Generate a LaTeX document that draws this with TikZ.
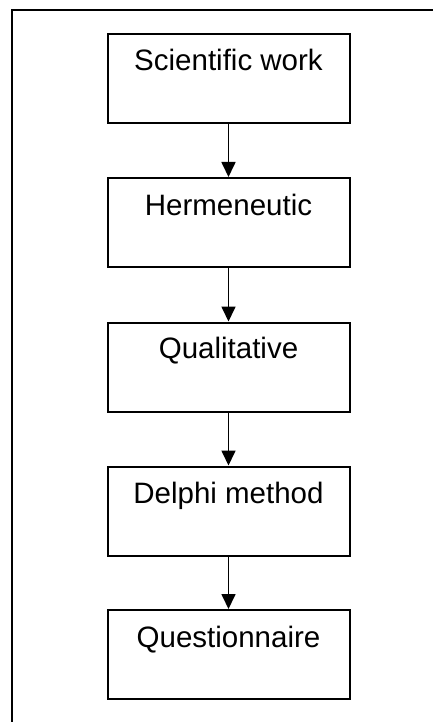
\documentclass[tikz,border=0pt]{standalone}
\usepackage{fontspec}
\setmainfont{Liberation Sans}
\usetikzlibrary{arrows.meta,calc}
\begin{document}
\begin{tikzpicture}[x=1pt,y=-1pt,
  stagebox/.style={draw=black,line width=2pt,minimum width=242pt,minimum height=89pt,inner sep=0pt},
  stagetext/.style={anchor=base,font=\fontsize{29.5}{34}\selectfont,inner sep=0pt},
  flow/.style={line width=1.7pt,-{Triangle[length=15pt,width=14pt]}}]
  \useasboundingbox (0,0) rectangle (433,722);
  % open frame: top and left edges only
  \draw[line width=2pt] (433,10) -- (12,10) -- (12,722);
  % stages
  \node[stagebox] (b1) at (228.5,78.5) {};
  \node[stagebox] (b2) at (228.5,222.5) {};
  \node[stagebox] (b3) at (228.5,367) {};
  \node[stagebox] (b4) at (228.5,511) {};
  \node[stagebox] (b5) at (228.5,654.5) {};
  \node[stagetext] (t1) at ($(b1.north)+(0,38)$) {Scientific work};
  \node[stagetext] (t2) at ($(b2.north)+(0,38)$) {Hermeneutic};
  \node[stagetext] (t3) at ($(b3.north)+(0,37)$) {Qualitative};
  \node[stagetext] (t4) at ($(b4.north)+(0,38)$) {Delphi method};
  \node[stagetext] (t5) at ($(b5.north)+(0,38)$) {Questionnaire};
  % connectors
  \draw[flow] (b1.south) -- (b2.north);
  \draw[flow] (b2.south) -- (b3.north);
  \draw[flow] (b3.south) -- (b4.north);
  \draw[flow] (b4.south) -- (b5.north);
\end{tikzpicture}
\end{document}
